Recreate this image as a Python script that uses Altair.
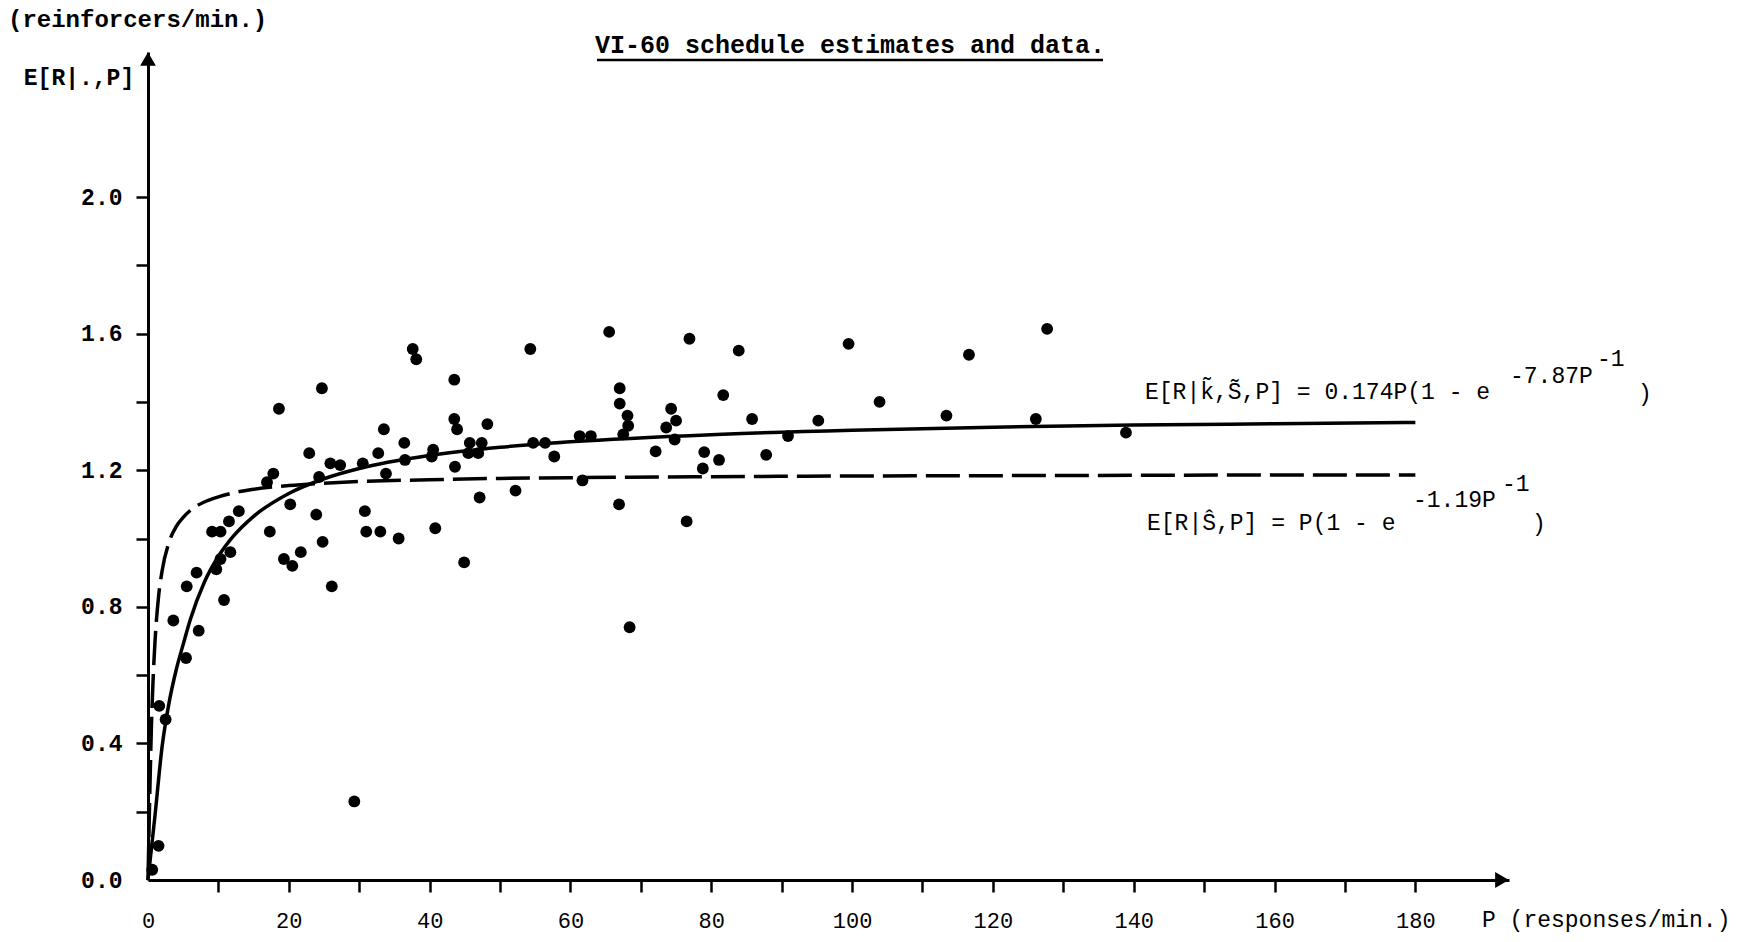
import altair as alt
import pandas as pd

# ---- observed data: P (responses/min.) and reinforcers/min. ----
obs_P = [0.6, 1.5, 1.6, 2.5, 3.6, 5.4, 5.5, 6.9, 7.2, 9.1, 10.3, 9.7, 10.3, 10.8,
         11.5, 11.7, 12.9, 16.9, 17.8, 17.3, 18.6, 19.3, 20.2, 20.5, 21.7, 22.9,
         23.9, 24.3, 24.7, 24.8, 25.9, 26.1, 27.3, 29.3, 30.5, 30.8, 31.0, 32.7,
         33.0, 33.5, 33.8, 35.6, 36.4, 36.5, 37.6, 38.1, 40.3, 40.5, 40.8, 43.5,
         43.5, 43.9, 43.6, 44.9, 45.5, 45.7, 46.9, 47.1, 47.4, 48.2, 52.2, 54.3,
         54.7, 56.4, 57.7, 61.3, 62.9, 61.7, 65.5, 67.0, 67.0, 68.1, 68.2, 67.5,
         66.9, 68.4, 72.1, 73.6, 74.3, 75.0, 74.8, 76.5, 76.9, 78.8, 79.0, 81.1,
         81.7, 83.9, 85.8, 87.8, 90.9, 95.2, 99.5, 103.9, 113.4, 116.6, 126.1,
         127.7, 138.9]
obs_R = [0.03, 0.10, 0.51, 0.47, 0.76, 0.65, 0.86, 0.90, 0.73, 1.02, 1.02, 0.91,
         0.94, 0.82, 1.05, 0.96, 1.08, 1.165, 1.19, 1.02, 1.38, 0.94, 1.10, 0.92,
         0.96, 1.25, 1.07, 1.18, 1.44, 0.99, 1.22, 0.86, 1.215, 0.23, 1.22, 1.08,
         1.02, 1.25, 1.02, 1.32, 1.19, 1.00, 1.28, 1.23, 1.555, 1.525, 1.24, 1.26,
         1.03, 1.465, 1.35, 1.32, 1.21, 0.93, 1.25, 1.28, 1.25, 1.12, 1.28, 1.335,
         1.14, 1.555, 1.28, 1.28, 1.24, 1.30, 1.30, 1.17, 1.605, 1.44, 1.395, 1.36,
         1.33, 1.305, 1.10, 0.74, 1.255, 1.325, 1.38, 1.345, 1.29, 1.05, 1.585,
         1.205, 1.253, 1.23, 1.42, 1.55, 1.35, 1.245, 1.30, 1.345, 1.57, 1.40,
         1.36, 1.538, 1.35, 1.614, 1.31]

# ---- solid curve E[R|k~,S~,P] ----
tilde_P = [0, 1, 2, 3, 4, 5, 6, 8, 10, 12, 15, 20, 25, 30, 40, 50, 60, 80, 100,
           120, 140, 160, 180]
tilde_R = [0, 0.19, 0.39, 0.52, 0.615, 0.69, 0.762, 0.872, 0.948, 1.004, 1.065,
           1.132, 1.175, 1.205, 1.243, 1.267, 1.283, 1.304, 1.317, 1.326, 1.332,
           1.336, 1.340]

# ---- dashed curve E[R|S^,P] ----
hat_P = [0, 0.25, 0.5, 0.75, 1, 1.5, 2, 3, 4, 5, 6, 8, 10, 12, 15, 20, 25, 30,
         40, 50, 60, 80, 100, 120, 140, 160, 180]
hat_R = [0, 0.25, 0.46, 0.60, 0.70, 0.83, 0.905, 0.99, 1.035, 1.062, 1.082,
         1.107, 1.122, 1.133, 1.144, 1.155, 1.162, 1.167, 1.172, 1.176, 1.178,
         1.181, 1.183, 1.184, 1.185, 1.186, 1.186]

x_ticks = [0, 10, 20, 30, 40, 50, 60, 70, 80, 90, 100, 110, 120, 130, 140, 150,
           160, 170, 180]
y_ticks = [0.0, 0.2, 0.4, 0.6, 0.8, 1.0, 1.2, 1.4, 1.6, 1.8, 2.0]

title_text = "VI-60 schedule estimates and data."
y_unit = "(reinforcers/min.)"
y_name = "E[R|.,P]"
x_name = "P (responses/min.)"
eq1_main = "E[R|k\u0303,S\u0303,P] = 0.174P(1 - e"
eq1_sup = "-7.87P"
eq1_supsup = "-1"
eq2_main = "E[R|\u015c,P] = P(1 - e"
eq2_sup = "-1.19P"
eq2_supsup = "-1"
close_paren = ")"

FONT = "Liberation Mono"
W, H = 1361, 828
XMAX = 193.3
YMAX = 2.4246

df_obs = pd.DataFrame({"P": obs_P, "R": obs_R})
df_tilde = pd.DataFrame({"P": tilde_P, "R": tilde_R})
df_hat = pd.DataFrame({"P": hat_P, "R": hat_R})
one = pd.DataFrame({"a": [0]})

xs = alt.Scale(domain=[0, XMAX], nice=False, zero=True)
ys = alt.Scale(domain=[0, YMAX], nice=False, zero=True)

no_zero_tick = {"condition": {"test": "datum.value === 0", "value": 0}, "value": 1}

x_axis = alt.Axis(
    values=x_ticks, title=None, grid=False,
    labelExpr="datum.value % 20 === 0 ? format(datum.value, 'd') : ''",
    labelFont=FONT, labelFontSize=22, labelColor="black", labelBaseline="middle",
    labelPadding=28, labelFlush=False, labelOverlap=False,
    domainColor="black", domainWidth=3, tickColor="black", tickWidth=2.5,
    tickSize=12, tickOpacity=no_zero_tick,
)
y_axis = alt.Axis(
    values=y_ticks, title=None, grid=False,
    labelExpr="round(datum.value * 10) % 4 === 0 ? format(datum.value, '.1f') : ''",
    labelFont=FONT, labelFontSize=23, labelFontWeight="bold", labelColor="black",
    labelPadding=14, labelFlush=False, labelOverlap=False,
    domainColor="black", domainWidth=3, tickColor="black", tickWidth=2.5,
    tickSize=12, tickOpacity=no_zero_tick,
)

points = alt.Chart(df_obs).mark_circle(size=140, color="black", opacity=1).encode(
    x=alt.X("P:Q", scale=xs, axis=x_axis),
    y=alt.Y("R:Q", scale=ys, axis=y_axis),
)

solid = alt.Chart(df_tilde).mark_line(
    color="black", strokeWidth=3.5, interpolate="monotone"
).encode(x="P:Q", y="R:Q")

dashed = alt.Chart(df_hat).mark_line(
    color="black", strokeWidth=3.5, interpolate="monotone", strokeDash=[34, 9]
).encode(x="P:Q", y="R:Q")

arrow_up = alt.Chart(one).mark_point(
    shape="triangle-up", size=250, filled=True, color="black", opacity=1
).encode(x=alt.value(0), y=alt.value(7))
arrow_right = alt.Chart(one).mark_point(
    shape="triangle-right", size=250, filled=True, color="black", opacity=1
).encode(x=alt.value(W - 7), y=alt.value(H))


def label(text, x, y, size=22, weight="normal", align="left"):
    return alt.Chart(one).mark_text(
        text=text, font=FONT, fontSize=size, fontWeight=weight, align=align,
        baseline="middle", color="black"
    ).encode(x=alt.value(x), y=alt.value(y))


title_lbl = label(title_text, 702, -7, size=25, weight="bold", align="center")
title_rule = alt.Chart(one).mark_rule(color="black", strokeWidth=2.5).encode(
    x=alt.value(449), x2=alt.value(955), y=alt.value(8)
)
unit_lbl = label(y_unit, -140, -32, size=24, weight="bold")
yname_lbl = label(y_name, -69, 26, size=23, weight="bold", align="center")
xname_lbl = label(x_name, 1334, 868, size=23)

eq1 = [
    label(eq1_main, 997, 340, size=23),
    label(eq1_sup, 1362, 324, size=23),
    label(eq1_supsup, 1449, 307, size=23),
    label(close_paren, 1490, 342, size=23),
]
eq2 = [
    label(eq2_main, 999, 471, size=23),
    label(eq2_sup, 1265, 448, size=23),
    label(eq2_supsup, 1354, 432, size=23),
    label(close_paren, 1384, 472, size=23),
]

chart = alt.layer(
    dashed, solid, points, arrow_up, arrow_right,
    title_lbl, title_rule, unit_lbl, yname_lbl, xname_lbl, *eq1, *eq2
).properties(
    width=W, height=H,
    autosize=alt.AutoSizeParams(type="none"),
    padding={"left": 140, "top": 44, "right": 239, "bottom": 54},
    background="white",
).configure_view(stroke=None)

chart.save("out.html", embed_options={"renderer": "svg", "actions": False})
